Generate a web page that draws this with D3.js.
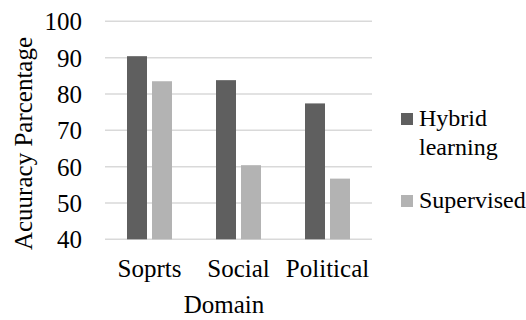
<!DOCTYPE html>
<html>
<head>
<meta charset="utf-8">
<script src="https://cdn.jsdelivr.net/npm/d3@7"></script>
<style>
  body { margin: 0; background: #fff; font-family: 'Liberation Serif', serif; }
  .ttl { font-family: 'Liberation Serif', serif; font-size: 25px; }
</style>
</head>
<body>
<div id="chart"></div>
<script>
// data
const domains = ["Soprts", "Social", "Political"];
const seriesNames = ["Hybrid learning", "Supervised"];
const legendLines = [["Hybrid", "learning"], ["Supervised"]];
const hybrid = [90.4, 83.8, 77.4];
const supervised = [83.5, 60.4, 56.7];
const yTicks = [40, 50, 60, 70, 80, 90, 100];

const colors = ["#5f5f5f", "#b3b3b3"];

let width = 526, height = 320;
let plot = {left: 105, right: 372, top: 21.3, bottom: 239.3};

let svg = d3.select("#chart").append("svg")
	.attr("width", width)
	.attr("height", height);

let y = d3.scaleLinear().domain([40, 100]).range([plot.bottom, plot.top]);
let x0 = d3.scaleBand().domain(domains).range([plot.left, plot.right]);
let x1 = d3.scaleBand().domain(seriesNames)
	.range([22, x0.step() - 22])
	.paddingInner(0.2);

// gridlines
svg.append("g").selectAll("line")
	.data(yTicks)
	.enter().append("line")
	.attr("x1", plot.left)
	.attr("x2", plot.right)
	.attr("y1", d => y(d))
	.attr("y2", d => y(d))
	.attr("stroke", "#d9d9d9")
	.attr("stroke-width", 1.5);

// y axis labels
let yAxis = d3.axisLeft(y).tickValues(yTicks).tickSize(0).tickPadding(0);
let yg = svg.append("g")
	.attr("transform", "translate(82,0)")
	.call(yAxis)
	.attr("font-family", "Liberation Serif")
	.attr("font-size", 25);
yg.select(".domain").remove();
yg.selectAll("text")
	.attr("fill", "#000")
	.attr("dy", "0.34em");

// bars
let rows = domains.map((d, i) => ({domain: d, values: [hybrid[i], supervised[i]]}));
let groups = svg.append("g").selectAll("g")
	.data(rows)
	.enter().append("g")
	.attr("transform", d => "translate(" + x0(d.domain) + ",0)");

groups.selectAll("rect")
	.data(d => d.values.map((v, j) => ({name: seriesNames[j], value: v, j: j})))
	.enter().append("rect")
	.attr("x", d => x1(d.name))
	.attr("y", d => y(d.value))
	.attr("width", x1.bandwidth())
	.attr("height", d => y(40) - y(d.value))
	.attr("fill", d => colors[d.j]);

// x axis labels
let xAxis = d3.axisBottom(x0).tickSize(0).tickPadding(0);
let xg = svg.append("g")
	.attr("transform", "translate(0,259)")
	.call(xAxis)
	.attr("font-family", null)
	.attr("font-size", 25);
xg.select(".domain").remove();
xg.selectAll("text")
	.style("font-family", "'Liberation Serif'")
	.attr("fill", "#000");

// axis titles
svg.append("text")
	.attr("class", "ttl")
	.text("Domain")
	.attr("x", 224)
	.attr("y", 313)
	.attr("text-anchor", "middle");

svg.append("text")
	.attr("class", "ttl")
	.text("Acuuracy Parcentage")
	.attr("transform", "translate(32,143.5) rotate(-90)")
	.attr("text-anchor", "middle");

// legend
let legendY = [119, 201];
let legend = svg.append("g").selectAll("g")
	.data(seriesNames)
	.enter().append("g")
	.attr("transform", (d, i) => "translate(401," + legendY[i] + ")");

legend.append("rect")
	.attr("x", 0)
	.attr("y", -6)
	.attr("width", 12)
	.attr("height", 12)
	.attr("fill", (d, i) => colors[i]);

legend.append("text")
	.attr("x", 18)
	.attr("y", 7)
	.attr("font-size", 24)
	.style("font-family", d => "'Liberation Serif'")
	.selectAll("tspan")
	.data((d, i) => legendLines[i])
	.enter().append("tspan")
	.attr("x", 18)
	.attr("dy", (d, k) => k === 0 ? 0 : 29)
	.text(d => d);
</script>
</body>
</html>
